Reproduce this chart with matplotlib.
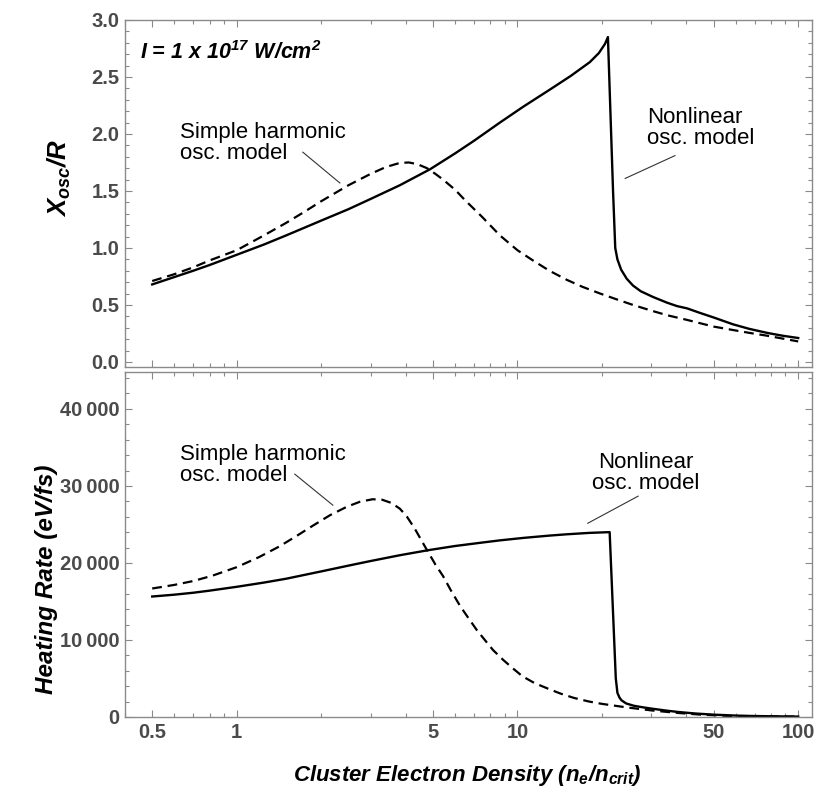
import matplotlib
matplotlib.use("Agg")
import matplotlib.pyplot as plt
from matplotlib import font_manager
from matplotlib.ticker import FixedLocator, FixedFormatter, MultipleLocator, NullFormatter

# ---------------- data ----------------
density_ticks = [0.5, 1, 5, 10, 50, 100]
density_tick_labels = ["0.5", "1", "5", "10", "50", "100"]

# oscillation amplitude X_osc / R, nonlinear oscillator model
xosc_nl_n = [0.5, 0.6, 0.7, 0.8, 1.0, 1.25, 1.5, 2.0, 2.5, 3.0, 3.81, 4.88, 6.0, 7.0,
             8.66, 10.5, 13.06, 15.5, 18.1, 19.5, 20.5, 21.0, 21.9, 22.3, 22.7, 23.4,
             24.5, 25.8, 27.5, 30.4, 34.1, 37.0, 40.2, 44.7, 50, 58.6, 67, 77.5, 88, 100]
xosc_nl = [0.68, 0.745, 0.80, 0.85, 0.94, 1.03, 1.11, 1.24, 1.34, 1.43, 1.55, 1.69, 1.83,
           1.94, 2.10, 2.24, 2.39, 2.51, 2.63, 2.71, 2.79, 2.85, 1.50, 1.00, 0.90, 0.81,
           0.73, 0.67, 0.62, 0.57, 0.52, 0.49, 0.47, 0.43, 0.39, 0.33, 0.29, 0.255, 0.23, 0.21]

# oscillation amplitude X_osc / R, simple harmonic oscillator model
xosc_sho_n = [0.5, 0.6, 0.7, 0.8, 1.0, 1.25, 1.5, 1.75, 2.0, 2.5, 3.0, 3.4, 3.8, 4.1,
              4.4, 4.76, 5.1, 5.43, 6.0, 6.5, 7.5, 8.66, 10, 11.36, 13, 15.0, 17, 19.7,
              22.5, 25.8, 30, 34.1, 40, 44.7, 50, 58.6, 67, 77.5, 88, 100]
xosc_sho = [0.71, 0.77, 0.83, 0.89, 0.98, 1.11, 1.22, 1.32, 1.41, 1.55, 1.65, 1.71, 1.745,
            1.75, 1.735, 1.70, 1.65, 1.60, 1.51, 1.42, 1.27, 1.11, 0.98, 0.89, 0.80, 0.72,
            0.66, 0.60, 0.55, 0.50, 0.45, 0.41, 0.37, 0.34, 0.31, 0.28, 0.255, 0.23, 0.205, 0.18]

# heating rate (eV/fs), nonlinear oscillator model
heat_nl_n = [0.5, 0.6, 0.7, 0.8, 1.0, 1.25, 1.5, 2.0, 2.5, 3.0, 3.81, 4.8, 6.0, 7.5,
             8.66, 10.5, 13, 15, 18, 21.3, 22.4, 22.7, 23.1, 23.5, 24.4, 26, 28, 30.1,
             34, 37.3, 43, 50, 60, 70, 85, 100]
heat_nl = [15640, 15880, 16130, 16400, 16900, 17450, 17950, 18900, 19650, 20250, 21000,
           21650, 22200, 22650, 22930, 23250, 23550, 23720, 23900, 24000, 5000, 3130,
           2500, 2150, 1750, 1450, 1250, 1080, 820, 650, 450, 300, 180, 120, 80, 50]

# heating rate (eV/fs), simple harmonic oscillator model
heat_sho_n = [0.5, 0.6, 0.7, 0.82, 1.0, 1.2, 1.42, 1.65, 1.87, 2.15, 2.47, 2.75, 3.05,
              3.3, 3.55, 3.81, 4.04, 4.3, 4.62, 4.8, 5.1, 5.43, 5.8, 6.25, 6.7, 7.16,
              7.65, 8.18, 8.9, 9.64, 10.4, 11.5, 12.8, 14.2, 15.9, 18, 20, 24.4, 30,
              37.3, 45, 57.1, 75, 100]
heat_sho = [16680, 17150, 17650, 18350, 19450, 20750, 22150, 23600, 24850, 26200, 27300,
            27950, 28270, 28200, 27800, 27050, 26000, 24500, 22500, 21450, 19800, 18300,
            16400, 14400, 12800, 11300, 10000, 8700, 7400, 6300, 5300, 4400, 3700, 3050,
            2470, 2000, 1700, 1250, 850, 520, 300, 130, 70, 40]

xosc_ticks = [0.0, 0.5, 1.0, 1.5, 2.0, 2.5, 3.0]
xosc_tick_labels = ["0.0", "0.5", "1.0", "1.5", "2.0", "2.5", "3.0"]
heat_ticks = [0, 10000, 20000, 30000, 40000]
heat_tick_labels = ["0", "10\u2009000", "20\u2009000", "30\u2009000", "40\u2009000"]

# ---------------- fonts ----------------
installed = {f.name for f in font_manager.fontManager.ttflist}
narrow = "Liberation Sans Narrow" if "Liberation Sans Narrow" in installed else "Liberation Sans"
plt.rcParams["font.family"] = ["Liberation Sans", "DejaVu Sans"]
plt.rcParams["mathtext.fontset"] = "custom"
for key in ("rm", "it", "bf", "sf"):
    plt.rcParams[f"mathtext.{key}"] = f"{narrow}:bold:italic"

label_family = [narrow, "Liberation Sans", "DejaVu Sans"]
frame_col = "#8a8a8a"
tick_lab_col = "#4a4a4a"

fig = plt.figure(figsize=(8.18, 7.89), dpi=100)
ax1 = fig.add_axes([0.1528, 0.5349, 0.8399, 0.4398])
ax2 = fig.add_axes([0.1528, 0.0913, 0.8399, 0.4373])

dash = (0, (4.4, 2.6))
ax1.plot(xosc_sho_n, xosc_sho, color="black", lw=1.6, linestyle=dash)
ax1.plot(xosc_nl_n, xosc_nl, color="black", lw=1.7)
ax2.plot(heat_sho_n, heat_sho, color="black", lw=1.6, linestyle=dash)
ax2.plot(heat_nl_n, heat_nl, color="black", lw=1.7)

major_x = density_ticks
minor_x = [v * 10 ** d for d in (-1, 0, 1) for v in range(2, 10)]
minor_x = [v for v in minor_x if 0.4 <= v <= 100 and v not in major_x]

for ax in (ax1, ax2):
    ax.set_xscale("log")
    ax.set_xlim(0.4, 112)
    ax.xaxis.set_major_locator(FixedLocator(major_x))
    ax.xaxis.set_minor_locator(FixedLocator(minor_x))
    ax.xaxis.set_minor_formatter(NullFormatter())
    for s in ax.spines.values():
        s.set_color(frame_col)
        s.set_linewidth(1.0)
    ax.tick_params(which="both", direction="in", top=True, right=True,
                   color=frame_col, width=0.8, labelcolor=tick_lab_col,
                   labelsize=14.5, pad=4)
    ax.tick_params(which="major", length=5)
    ax.tick_params(which="minor", length=3)

ax1.set_ylim(-0.044, 3.0)
ax1.yaxis.set_major_locator(FixedLocator(xosc_ticks))
ax1.yaxis.set_major_formatter(FixedFormatter(xosc_tick_labels))
ax1.yaxis.set_minor_locator(MultipleLocator(0.1))
ax1.xaxis.set_major_formatter(NullFormatter())

ax2.set_ylim(0, 44800)
ax2.yaxis.set_major_locator(FixedLocator(heat_ticks))
ax2.yaxis.set_major_formatter(FixedFormatter(heat_tick_labels))
ax2.yaxis.set_minor_locator(MultipleLocator(2000))
ax2.xaxis.set_major_formatter(FixedFormatter(density_tick_labels))

for ax in (ax1, ax2):
    for lab in ax.get_xticklabels() + ax.get_yticklabels():
        lab.set_fontweight("bold")

# axis titles
ax1.set_ylabel(r"X$_{osc}$/R", family=label_family, weight="bold", style="italic", size=18.5)
ax2.set_ylabel("Heating Rate (eV/fs)", family=label_family, weight="bold", style="italic", size=17.5)
ax2.set_xlabel(r"Cluster Electron Density (n$_e$/n$_{crit}$)", family=label_family,
               weight="bold", style="italic", size=16)
ax1.yaxis.set_label_coords(-0.076, 0.545)
ax2.yaxis.set_label_coords(-0.098, 0.4)
ax2.xaxis.set_label_coords(0.499, -0.134)

# intensity note
ax1.text(0.022, 0.905, r"I = 1 x 10$^{17}$ W/cm$^{2}$", transform=ax1.transAxes,
         ha="left", va="center", fontsize=15.5, fontweight="bold", style="italic")

# curve annotations
note_kw = dict(fontsize=16, color="black", linespacing=1.0, va="center")
leader_kw = dict(color="#333333", lw=0.8)

ax1.text(0.626, 1.92, "Simple harmonic\nosc. model", ha="left", **note_kw)
ax1.plot([1.72, 2.33], [1.84, 1.57], **leader_kw)
ax1.text(28.9, 2.05, "Nonlinear\nosc. model", ha="left", **note_kw)
ax1.plot([36.4, 24.2], [1.81, 1.61], **leader_kw)

ax2.text(0.626, 32700, "Simple harmonic\nosc. model", ha="left", **note_kw)
ax2.plot([1.61, 2.20], [31530, 27500], **leader_kw)
ax2.text(28.7, 31660, "Nonlinear\nosc. model", ha="center", multialignment="center", **note_kw)
ax2.plot([17.8, 26.9], [25150, 28670], **leader_kw)

fig.savefig("out.png", dpi=100)
